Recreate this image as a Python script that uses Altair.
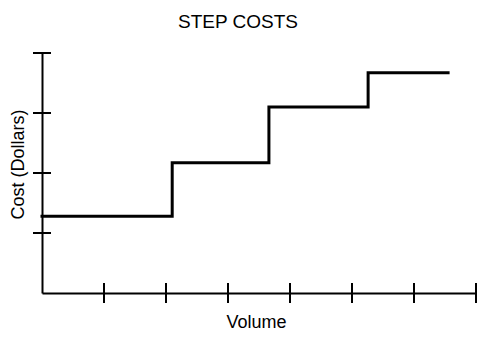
import altair as alt
import pandas as pd

# Step cost line (volume units, cost units)
step_volume = [0.0, 2.10, 3.66, 5.26, 6.55]
step_cost = [1.28, 2.17, 3.10, 3.67, 3.67]
# Axis tick positions
x_ticks = [1, 2, 3, 4, 5, 6, 7]
y_ticks = [1, 2, 3, 4]

line_df = pd.DataFrame({"Volume": step_volume, "Cost": step_cost})
xt_df = pd.DataFrame({"Volume": x_ticks})
yt_df = pd.DataFrame({"Cost": y_ticks})

FONT = "Liberation Sans"
xscale = alt.Scale(domain=[0, 7], nice=False, zero=False)
yscale = alt.Scale(domain=[0, 4], nice=False, zero=False)

x_axis = alt.Axis(
    title="Volume", ticks=False, labels=False, grid=False,
    domainColor="black", domainWidth=2,
    titleFont=FONT, titleFontSize=18, titleFontWeight="normal",
    titleColor="black", titleX=214, titleY=34,
    titleBaseline="alphabetic", titleAlign="center")
y_axis = alt.Axis(
    title="Cost (Dollars)", ticks=False, labels=False, grid=False,
    domainColor="black", domainWidth=2,
    titleFont=FONT, titleFontSize=18, titleFontWeight="normal",
    titleColor="black", titleX=-19, titleY=111, titleAngle=270,
    titleBaseline="alphabetic", titleAlign="center")

line = alt.Chart(line_df).mark_line(
    interpolate="step-after", color="black", strokeWidth=3,
    strokeJoin="miter", strokeCap="square"
).encode(
    x=alt.X("Volume:Q", scale=xscale, axis=x_axis),
    y=alt.Y("Cost:Q", scale=yscale, axis=y_axis),
)

xt = alt.Chart(xt_df).mark_tick(
    orient="vertical", size=20, thickness=2, color="black", opacity=1
).encode(
    x=alt.X("Volume:Q", scale=xscale, axis=x_axis),
    y=alt.value(240),
)

yt = alt.Chart(yt_df).mark_tick(
    orient="horizontal", size=18, thickness=2, color="black", opacity=1
).encode(
    y=alt.Y("Cost:Q", scale=yscale, axis=y_axis),
    x=alt.value(0),
)

chart = alt.layer(line, xt, yt).properties(
    width=434, height=240,
    autosize=alt.AutoSizeParams(type="none"),
    padding={"left": 42, "top": 53, "right": 9, "bottom": 44},
    background="white",
    title=alt.Title("STEP COSTS", font=FONT, fontSize=19, fontWeight="normal",
                    color="black", anchor="middle", dx=-21, offset=5,
                    baseline="alphabetic"),
).configure_view(strokeWidth=0)

chart.save("out.html", embed_options={"renderer": "svg", "actions": False})
